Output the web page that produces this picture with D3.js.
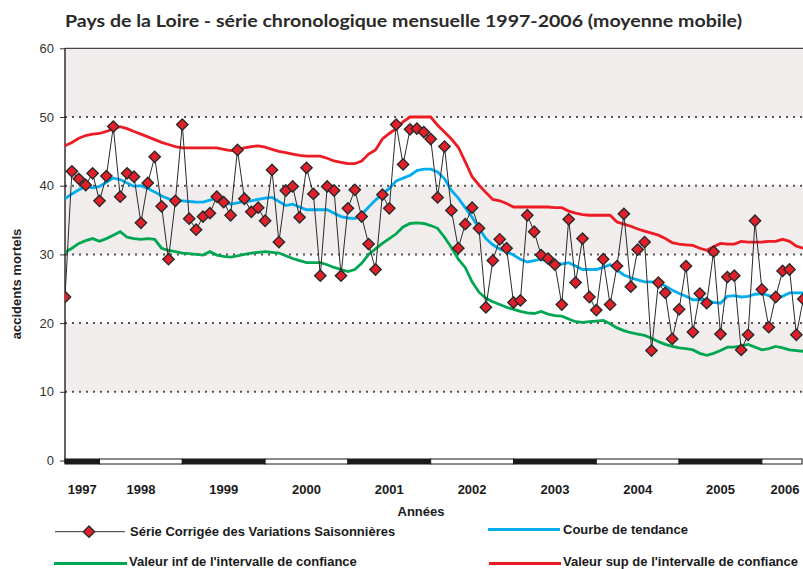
<!DOCTYPE html>
<html><head><meta charset="utf-8">
<script src="https://cdn.jsdelivr.net/npm/d3@7/dist/d3.min.js"></script>
<style>body{margin:0;background:#fff}svg{display:block}</style>
</head><body><svg id="c" width="803" height="569"></svg>
<script>
// ---- DATA ----
const yearLabels = ['1997','1998','1999','2000','2001','2002','2003','2004','2005','2006'];
// month index (0 = août 1997) where each year starts
const yearStart = [0,5,17,29,41,53,65,77,89,101];
const yTicks = [0,10,20,30,40,50,60];
const cvs = [23.8,42.1,41.0,40.1,41.8,37.8,41.4,48.6,38.4,41.8,41.3,34.6,40.4,44.2,37.0,29.3,37.8,48.9,
  35.2,33.6,35.5,36.0,38.4,37.6,35.7,45.2,38.1,36.2,36.8,34.9,42.3,31.8,39.3,39.9,35.4,42.6,
  38.8,26.9,39.9,39.3,26.9,36.7,39.4,35.5,31.5,27.8,38.7,36.7,48.9,43.1,48.2,48.3,47.8,46.8,
  38.3,45.7,36.4,30.9,34.4,36.8,33.8,22.3,29.1,32.2,30.9,23.0,23.3,35.7,33.3,29.9,29.4,28.5,
  22.7,35.1,25.9,32.3,23.8,21.9,29.3,22.7,28.3,35.9,25.3,30.7,31.8,16.0,25.9,24.4,17.7,22.0,
  28.3,18.7,24.3,22.9,30.4,18.4,26.7,26.9,16.1,18.3,34.9,24.9,19.4,23.8,27.6,27.8,18.3,23.5];
const trend = [38.1,38.8,39.4,39.9,39.7,39.9,40.5,41.1,40.9,40.4,39.9,40.0,39.6,39.1,38.5,38.1,37.9,37.8,
  37.7,37.6,37.6,37.9,38.2,37.8,37.3,37.5,37.7,37.8,38.0,38.2,38.3,37.7,37.1,37.3,36.9,36.5,
  36.5,36.5,36.5,36.0,35.5,35.3,35.2,35.8,36.9,37.9,38.8,39.6,40.7,41.1,41.5,42.2,42.4,42.4,
  42.0,41.0,39.3,38.2,36.8,35.4,33.8,32.3,31.4,30.8,30.4,29.9,29.3,28.9,29.1,29.3,29.0,28.8,
  28.6,28.8,28.3,27.8,27.8,27.8,28.1,28.5,27.7,27.0,26.6,26.3,26.0,26.0,25.9,25.4,24.8,24.3,
  23.9,23.4,23.4,23.4,23.0,22.9,23.9,24.0,23.8,23.9,24.2,24.3,24.0,23.9,23.9,24.4,24.4,24.4];
const lower = [30.3,30.9,31.6,32.0,32.3,31.9,32.3,32.8,33.3,32.5,32.3,32.2,32.3,32.2,30.9,30.6,30.4,30.2,
  30.1,30.0,29.9,30.4,29.9,29.7,29.6,29.8,30.0,30.2,30.3,30.4,30.3,30.2,29.8,29.4,29.1,28.8,
  28.8,28.8,28.5,28.1,27.8,27.5,27.8,28.7,30.0,30.8,31.6,32.3,33.0,34.0,34.5,34.6,34.5,34.2,
  33.8,32.5,31.0,29.3,28.1,26.0,24.5,23.6,23.1,22.7,22.3,22.0,21.7,21.5,21.4,21.7,21.3,21.1,
  21.0,20.6,20.2,20.1,20.2,20.3,20.4,19.9,19.3,18.9,18.6,18.4,18.2,17.8,17.3,16.9,16.6,16.4,
  16.3,16.1,15.6,15.3,15.6,16.0,16.5,16.5,16.7,16.9,16.5,16.1,16.3,16.6,16.4,16.1,16.0,15.9];
const upper = [45.8,46.3,46.9,47.3,47.5,47.6,47.9,48.3,48.6,48.3,47.9,47.5,47.1,46.7,46.3,46.0,45.7,45.5,
  45.5,45.5,45.5,45.5,45.5,45.3,45.1,45.3,45.5,45.7,45.8,45.6,45.3,45.0,44.8,44.6,44.4,44.3,
  44.3,44.3,44.0,43.6,43.4,43.2,43.2,43.6,44.6,45.2,46.8,47.6,48.3,49.3,50.0,50.0,50.0,50.0,
  48.8,47.8,46.8,45.6,43.5,41.3,40.1,39.0,38.0,37.8,37.4,36.9,36.9,36.9,36.9,36.9,36.9,36.8,
  36.8,36.3,36.0,35.8,35.7,35.7,35.7,35.7,34.7,34.4,34.1,33.7,33.4,33.1,32.8,32.3,31.7,31.5,
  31.4,31.3,30.9,30.6,31.1,31.6,31.5,31.5,31.9,31.8,31.8,31.8,31.9,31.9,32.2,31.9,31.2,30.9];

// ---- CHART ----
const svg = d3.select('#c');
const L = 65, R = 803, T = 48.3, B = 460.5;
const x = d3.scaleLinear().domain([0, cvs.length - 1]).range([L, 803.3]);
const y = d3.scaleLinear().domain([0, 60]).range([B, T]);

svg.append('defs').append('clipPath').attr('id','pc')
  .append('rect').attr('x',L).attr('y',T-10).attr('width',R-L).attr('height',B-T+20);

svg.append('text').attr('x',65).attr('y',27)
  .attr('font-family','Lato, "DejaVu Sans", sans-serif').attr('font-weight','bold')
  .attr('font-size',17.5).attr('fill','#2a2a2a')
  .attr('textLength',677).attr('lengthAdjust','spacingAndGlyphs')
  .text('Pays de la Loire - série chronologique mensuelle 1997-2006 (moyenne mobile)');

// bands
[[50,60],[30,40],[10,20]].forEach(b=>{
  svg.append('rect').attr('x',L).attr('width',R-L).attr('y',y(b[1])).attr('height',y(b[0])-y(b[1]))
    .attr('fill','#f1eded');
});
// dotted grid
[10,20,30,40,50].forEach(v=>{
  svg.append('line').attr('x1',L).attr('x2',R).attr('y1',y(v)).attr('y2',y(v))
    .attr('stroke','#555').attr('stroke-width',2).attr('stroke-dasharray','2,5');
});
// top border
svg.append('line').attr('x1',L).attr('x2',R).attr('y1',T).attr('y2',T).attr('stroke','#444').attr('stroke-width',1.3);

// y axis
const ya = svg.append('g').attr('transform',`translate(${L},0)`)
  .call(d3.axisLeft(y).tickValues(yTicks).tickSize(5).tickPadding(6).tickFormat(d3.format('d')));
ya.select('.domain').remove();
ya.selectAll('line').attr('stroke','#333');
ya.selectAll('text').attr('font-family','"Liberation Sans", Arial, sans-serif').attr('font-size',13).attr('fill','#333');
svg.append('line').attr('x1',L).attr('x2',L).attr('y1',T).attr('y2',B+3).attr('stroke','#111').attr('stroke-width',1.3);

svg.append('text').attr('transform',`translate(21,284) rotate(-90)`).attr('text-anchor','middle')
  .attr('font-family','"Liberation Sans", Arial, sans-serif').attr('font-weight','bold').attr('font-size',13)
  .attr('fill','#222').text('accidents mortels');

// year bar
const yb = svg.append('g');
yearLabels.forEach((lab,i)=>{
  const x0 = x(yearStart[i]);
  const x1 = i < yearLabels.length-1 ? x(yearStart[i+1]) : R-1;
  yb.append('rect').attr('x',x0).attr('y',B-1.5).attr('width',Math.min(x1,R-1)-x0).attr('height',5)
    .attr('fill', i%2===0 ? '#1a1a1a' : '#fff').attr('stroke','#1a1a1a').attr('stroke-width',1);
  svg.append('text').attr('x',(x0+Math.min(x1,R))/2 + (i===yearLabels.length-1?3:0)).attr('y',493.5).attr('text-anchor','middle')
    .attr('font-family','"Liberation Sans", Arial, sans-serif').attr('font-weight','bold').attr('font-size',13)
    .attr('fill','#1a1a1a').text(lab);
});
svg.append('text').attr('x',421).attr('y',515.5).attr('text-anchor','middle')
  .attr('font-family','"Liberation Sans", Arial, sans-serif').attr('font-weight','bold').attr('font-size',13)
  .attr('fill','#1a1a1a').text('Années');

// series
const g = svg.append('g').attr('clip-path','url(#pc)');
const line = d3.line().x((d,i)=>x(i)).y(d=>y(d));
g.append('path').datum(lower).attr('d',line).attr('fill','none').attr('stroke','#00a651').attr('stroke-width',2.8);
g.append('path').datum(upper).attr('d',line).attr('fill','none').attr('stroke','#ed1c24').attr('stroke-width',2.8);
g.append('path').datum(trend).attr('d',line).attr('fill','none').attr('stroke','#00aeef').attr('stroke-width',2.8);
g.append('path').datum(cvs).attr('d',line).attr('fill','none').attr('stroke','#2a2a2a').attr('stroke-width',1);
const dia = d3.symbol().type(d3.symbolSquare).size(64);
g.selectAll('.m').data(cvs).join('path').attr('class','m')
  .attr('d',dia).attr('transform',(d,i)=>`translate(${x(i)},${y(d)}) rotate(45)`)
  .attr('fill','#e3202a').attr('stroke','#2a2a2a').attr('stroke-width',1.4);

// legend
const lf = {'font-family':'"Liberation Sans", Arial, sans-serif','font-weight':'bold','font-size':13,'fill':'#1a1a1a'};
function ltext(xp,yp,t){const e=svg.append('text').attr('x',xp).attr('y',yp).text(t);Object.entries(lf).forEach(([k,v])=>e.attr(k,v));}
svg.append('line').attr('x1',55).attr('x2',125).attr('y1',531.7).attr('y2',531.7).attr('stroke','#333').attr('stroke-width',1);
svg.append('path').attr('d',dia).attr('transform','translate(89,531.7) rotate(45)').attr('fill','#e3202a').attr('stroke','#2a2a2a').attr('stroke-width',1.4);
ltext(130,536,'Série Corrigée des Variations Saisonnières');
svg.append('line').attr('x1',488).attr('x2',560).attr('y1',529.5).attr('y2',529.5).attr('stroke','#00aeef').attr('stroke-width',3);
ltext(563,534,'Courbe de tendance');
svg.append('line').attr('x1',54).attr('x2',127).attr('y1',563.5).attr('y2',563.5).attr('stroke','#00a651').attr('stroke-width',3);
ltext(129,566,"Valeur inf de l'intervalle de confiance");
svg.append('line').attr('x1',489).attr('x2',561).attr('y1',563.5).attr('y2',563.5).attr('stroke','#ed1c24').attr('stroke-width',3);
ltext(563,566,"Valeur sup de l'intervalle de confiance");
</script></body></html>
